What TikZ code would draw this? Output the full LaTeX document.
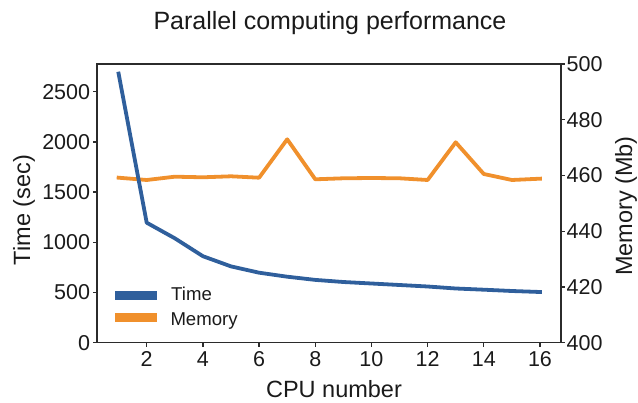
\documentclass[tikz,border=0pt]{standalone}
\usepackage{fontspec}
\setmainfont{Liberation Sans}
\definecolor{axgray}{HTML}{2B2B2B}
\definecolor{txt}{HTML}{1A1A1A}
\definecolor{tblue}{HTML}{2F5F9C}
\definecolor{morange}{HTML}{F0902C}
\begin{document}
\begin{tikzpicture}[x=1pt,y=-1pt,
  axisline/.style={line width=1.6pt, draw=axgray},
  tickmark/.style={line width=1.3pt, draw=axgray},
  ticklab/.style={inner sep=0pt, text=txt, font=\fontsize{21.5}{24}\selectfont},
  axlab/.style={inner sep=0pt, text=txt, font=\fontsize{23.5}{27}\selectfont},
  leglab/.style={inner sep=0pt, text=txt, font=\fontsize{18.6}{22}\selectfont, anchor=base west},
  dataline/.style={line width=3.8pt, line cap=rect, line join=round},
  leghandle/.style={inner sep=0pt, minimum width=41.7pt, minimum height=8.5pt}]
\useasboundingbox (0,0) rectangle (638,403);

% title
\node[inner sep=0pt, text=txt, font=\fontsize{25}{28}\selectfont, anchor=base] (title) at (330,30) {Parallel computing performance};

% frame
\draw[axisline] (97,64) rectangle (560.7,342.7);

% left ticks
\foreach \v in {0,500,1000,1500,2000,2500}{
  \draw[tickmark] (97,{342.7-\v*0.1004}) -- ++(-4.5,0);
  \node[ticklab, anchor=east] (yl\v) at (90.3,{342.7-\v*0.1004}) {\v};
}
% right ticks
\foreach \m in {400,420,440,460,480,500}{
  \draw[tickmark] (560.7,{342.7-(\m-400)*2.787}) -- ++(4.5,0);
  \node[ticklab, anchor=west] (yr\m) at (566.5,{342.7-(\m-400)*2.787}) {\m};
}
% bottom ticks
\foreach \c in {2,4,...,16}{
  \draw[tickmark] ({118.6+(\c-1)*28.093},342.7) -- ++(0,4.5);
  \node[ticklab, anchor=north] (xl\c) at ({118.6+(\c-1)*28.093},351.7) {\c};
}

% axis labels
\node[axlab, anchor=base] (xlabel) at (334,398) {CPU number};
\node[axlab, rotate=90] (ylabel) at (24,210) {Time (sec)};
\node[axlab, rotate=90] (y2label) at (626,206) {Memory (Mb)};

% memory line
\draw[dataline, morange] plot coordinates {
  (118.6,177.7) (146.7,180.0) (174.8,176.7) (202.9,177.3) (231.0,176.3)
  (259.1,177.7) (287.2,139.3) (315.3,179.3) (343.3,178.3) (371.4,178.0)
  (399.5,178.3) (427.6,180.0) (455.7,142.3) (483.8,174.0) (511.9,180.0)
  (540.0,178.7)};

% time line
\draw[dataline, tblue] plot coordinates {
  (118.6,73.6) (146.7,222.7) (174.8,238.3) (202.9,256.2) (231.0,266.4)
  (259.1,272.7) (287.2,276.7) (315.3,279.9) (343.3,282.0) (371.4,283.5)
  (399.5,285.0) (427.6,286.5) (455.7,288.5) (483.8,289.7) (511.9,291.0)
  (540.0,292.0)};

% legend
\node[leghandle, fill=tblue] (hTime) at (135.9,295.5) {};
\node[leghandle, fill=morange] (hMem) at (135.9,317.5) {};
\node[leglab] (lTime) at (171,300.8) {Time};
\node[leglab] (lMem) at (170.3,325.2) {Memory};
\end{tikzpicture}
\end{document}
